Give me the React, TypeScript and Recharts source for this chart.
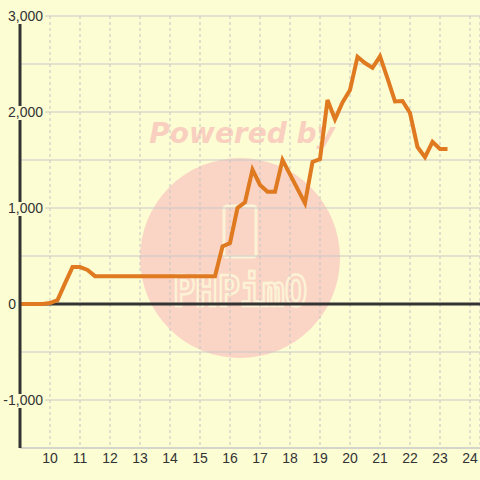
import { LineChart, Line, XAxis, YAxis, CartesianGrid, ReferenceLine } from "recharts";

const hours = [
  9, 9.25, 9.5, 9.75, 10, 10.25, 10.5, 10.75, 11, 11.25, 11.5, 11.75,
  12, 12.25, 12.5, 12.75, 13, 13.25, 13.5, 13.75, 14, 14.25, 14.5, 14.75,
  15, 15.25, 15.5, 15.75, 16, 16.25, 16.5, 16.75, 17, 17.25, 17.5, 17.75,
  18, 18.25, 18.5, 18.75, 19, 19.25, 19.5, 19.75, 20, 20.25, 20.5, 20.75,
  21, 21.25, 21.5, 21.75, 22, 22.25, 22.5, 22.75, 23, 23.25,
];

const values = [
  0, 0, 0, 0, 10, 40, 215, 385, 385, 355, 290, 290,
  290, 290, 290, 290, 290, 290, 290, 290, 290, 290, 290, 290,
  290, 290, 290, 600, 635, 1000, 1060, 1400, 1240, 1170, 1170, 1500,
  1350, 1200, 1050, 1480, 1510, 2125, 1925, 2100, 2230, 2575, 2510, 2460,
  2580, 2350, 2110, 2115, 1990, 1635, 1530, 1690, 1615, 1615,
];

const xTicks = [10, 11, 12, 13, 14, 15, 16, 17, 18, 19, 20, 21, 22, 23, 24];
const yTicks = [-1500, -1000, -500, 0, 500, 1000, 1500, 2000, 2500, 3000];
const yLabels = [-1000, 0, 1000, 2000, 3000];

const data = hours.map((h, i) => ({ h, v: values[i] }));

const BG = "#FCFDD3";
const INK = "#333333";

function YTick(props: any) {
  const { x, y, payload } = props;
  const val = payload.value;
  if (!yLabels.includes(val)) return null;
  const text = val.toLocaleString("en-US");
  const isZero = val === 0;
  const right = isZero ? x - 4 : x + 23;
  return (
    <g>
      <rect x={isZero ? x - 18 : x - 20} y={y - 6} width={isZero ? 14 : 45} height={14} fill={BG} />
      <text x={right} y={y} dy="0.36em" textAnchor="end" fontSize={14} fill={INK}
        fontFamily="'Liberation Sans', Arial, sans-serif">
        {text}
      </text>
    </g>
  );
}

function Watermark() {
  return (
    <svg width={480} height={480} style={{ position: "absolute", left: 0, top: 0 }}>
      <circle cx={240} cy={258} r={100} fill="#FAD5C5" />
      <text x={242} y={143} textAnchor="middle" fontSize={28} fontWeight="bold" fontStyle="italic"
        fontFamily="'DejaVu Sans', sans-serif" fill="#F9D0C0">
        Powered by
      </text>
      <rect x={224} y={206} width={32} height={51} rx={3} fill="none" stroke="#FCF3D6" strokeWidth={3} />
      <text x={173} y={306} textLength={134} lengthAdjust="spacingAndGlyphs" fontSize={42} fontWeight="bold"
        fontFamily="'DejaVu Sans Mono', monospace" fill="none" stroke="#FCF3D6" strokeWidth={2.5}>
        PHPimO
      </text>
    </svg>
  );
}

export default function App() {
  return (
    <div style={{ position: "absolute", left: 0, top: 0, width: 480, height: 480, background: BG }}>
      <Watermark />
      <div style={{ position: "absolute", left: 0, top: 0 }}>
        <LineChart width={480} height={480} data={data} margin={{ top: 16, right: 0, bottom: 0, left: 0 }}>
          <CartesianGrid horizontal={false} stroke="#C4C4C4" strokeDasharray="3 3" />
          <CartesianGrid vertical={false} stroke="#C8C8C8" />
          <XAxis
            dataKey="h"
            type="number"
            domain={[9, 24.3333]}
            allowDataOverflow
            ticks={xTicks}
            height={32}
            tickLine={false}
            tickSize={0}
            tickMargin={5}
            axisLine={{ stroke: "#C8C8C8" }}
            tick={{ fontSize: 14, fill: INK, fontFamily: "'Liberation Sans', Arial, sans-serif" }}
          />
          <YAxis
            type="number"
            domain={[-1500, 3000]}
            allowDataOverflow
            ticks={yTicks}
            width={20}
            tickLine={false}
            tickSize={0}
            tickMargin={0}
            axisLine={{ stroke: INK, strokeWidth: 3 }}
            tick={<YTick />}
          />
          <ReferenceLine y={0} stroke={INK} strokeWidth={3} />
          <Line
            type="linear"
            dataKey="v"
            stroke="#DF7A21"
            strokeWidth={4}
            dot={false}
            isAnimationActive={false}
          />
        </LineChart>
      </div>
    </div>
  );
}
